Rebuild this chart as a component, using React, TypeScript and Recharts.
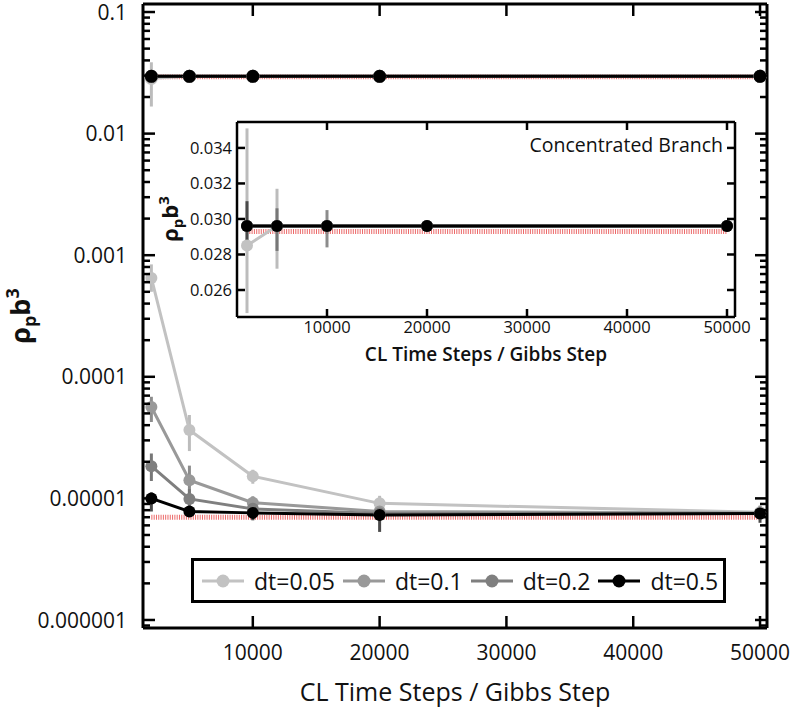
import React from "react";
import {
  LineChart,
  Line,
  XAxis,
  YAxis,
  ErrorBar,
  ReferenceLine,
  Legend,
} from "recharts";

// CL time steps per Gibbs step
const steps = [2000, 5000, 10000, 20000, 50000];

// dilute branch (log axis)
const diluteDt005 = [6.5e-4, 3.65e-5, 1.52e-5, 9.1e-6, 7.7e-6];
const diluteDt01 = [5.65e-5, 1.41e-5, 9.2e-6, 7.8e-6, 7.6e-6];
const diluteDt02 = [1.84e-5, 9.9e-6, 8.2e-6, 7.5e-6, 7.5e-6];
const diluteDt05 = [1.0e-5, 7.8e-6, 7.6e-6, 7.3e-6, 7.5e-6];

const diluteErrDt005 = [[1.5e-4, 1.9e-4], [1.2e-5, 1.2e-5], [2e-6, 2e-6], [1.4e-6, 1.4e-6], [0, 0]];
const diluteErrDt01 = [[1.4e-5, 1.2e-5], [3e-6, 4.5e-6], [1.2e-6, 1.2e-6], [0, 0], [0, 0]];
const diluteErrDt02 = [[4.5e-6, 5e-6], [1.5e-6, 2e-6], [1.5e-6, 2e-6], [0, 0], [0, 0]];
const diluteErrDt05 = [[2.2e-6, 1.2e-6], [0, 0], [1e-6, 1e-6], [2e-6, 2.2e-6], [1.2e-6, 1.2e-6]];

// concentrated branch
const concDt005 = [0.0285, 0.0296, 0.0296, 0.0296, 0.0296];
const concDt01 = [0.0296, 0.0296, 0.0296, 0.0296, 0.0296];
const concDt02 = [0.0296, 0.0296, 0.0296, 0.0296, 0.0296];
const concDt05 = [0.0296, 0.0296, 0.0296, 0.0296, 0.0296];

// error bars as drawn in the main panel
const concErrDt005 = [[0.0118, 0.0101], [0.0024, 0.0021], [0, 0], [0, 0], [0, 0]];
const concErrDt01 = [[0, 0], [0, 0], [0.0012, 0.0009], [0, 0], [0, 0]];
const concErrDt02 = [[0, 0], [0.0014, 0.001], [0, 0], [0, 0], [0, 0]];
const concErrDt05 = [[0.001, 0.0014], [0, 0], [0, 0], [0, 0], [0, 0]];
// error bars as drawn in the inset
const insetErrDt005 = [[0.0038, 0.0066], [0.0024, 0.0021], [0, 0], [0, 0], [0, 0]];

// exact values (red dotted)
const exactDilute = 7.0e-6;
const exactConc = 0.0293;

const legendLabels = ["dt=0.05", "dt=0.1", "dt=0.2", "dt=0.5"];

const mainXTicks = [10000, 20000, 30000, 40000, 50000];
const mainXLabels = ["10000", "20000", "30000", "40000", "50000"];
const mainYMajor = [1e-6, 1e-5, 1e-4, 1e-3, 1e-2, 1e-1];
const mainYLabels = ["0.000001", "0.00001", "0.0001", "0.001", "0.01", "0.1"];

const insetYTicks = [0.026, 0.028, 0.03, 0.032, 0.034];
const insetYLabels = ["0.026", "0.028", "0.030", "0.032", "0.034"];

const FONT = "'Open Sans', 'Noto Sans', sans-serif";

const MAIN_X_DOMAIN = [1340, 50550];
const MAIN_Y_DOMAIN = [8.59e-7, 0.1164];
const INSET_X_DOMAIN = [1000, 50800];
const INSET_Y_DOMAIN = [0.02448, 0.03546];

// log minor ticks 1..9 x decade
const mainYAllTicks = [1e-7, ...mainYMajor]
  .flatMap((m) => [1, 2, 3, 4, 5, 6, 7, 8, 9].map((k) => k * m))
  .filter((v) => v >= MAIN_Y_DOMAIN[0] && v <= MAIN_Y_DOMAIN[1]);

const series = [
  { id: "005", color: "#c2c2c2", err: "#bcbcbc" },
  { id: "01", color: "#999999", err: "#8c8c8c" },
  { id: "02", color: "#7f7f7f", err: "#777777" },
  { id: "05", color: "#000000", err: "#4a4a4a" },
];

const rows = steps.map((s, i) => ({
  step: s,
  d005: diluteDt005[i],
  d01: diluteDt01[i],
  d02: diluteDt02[i],
  d05: diluteDt05[i],
  ed005: diluteErrDt005[i],
  ed01: diluteErrDt01[i],
  ed02: diluteErrDt02[i],
  ed05: diluteErrDt05[i],
  c005: concDt005[i],
  c01: concDt01[i],
  c02: concDt02[i],
  c05: concDt05[i],
  ec005: concErrDt005[i],
  ec01: concErrDt01[i],
  ec02: concErrDt02[i],
  ec05: concErrDt05[i],
  ic005: insetErrDt005[i],
  ic01: concErrDt01[i],
  ic02: concErrDt02[i],
  ic05: concErrDt05[i],
}));

interface TickCfg {
  side: "left" | "right" | "top" | "bottom";
  len: number;
  minorLen?: number;
  majors?: number[];
  labels?: string[];
  gap?: number;
  fontSize?: number;
  weight?: number;
  sw?: number;
}

const findIdx = (arr: number[] | undefined, v: number) =>
  arr ? arr.findIndex((m) => Math.abs(v / m - 1) < 1e-6) : -1;

const makeTick = (cfg: TickCfg) => (props: any) => {
  const { x, y, payload } = props;
  const idx = findIdx(cfg.majors, payload.value);
  const major = !cfg.majors || idx >= 0;
  const len = major ? cfg.len : cfg.minorLen ?? cfg.len;
  const label = cfg.labels && idx >= 0 ? cfg.labels[idx] : null;
  const gap = cfg.gap ?? 6;
  const sw = cfg.sw ?? 2.5;
  let line = null;
  let text = null;
  if (cfg.side === "left") {
    line = <line x1={x} y1={y} x2={x + len} y2={y} stroke="#000" strokeWidth={sw} />;
    if (label)
      text = (
        <text x={x - gap} y={y} dy="0.36em" textAnchor="end" fontSize={cfg.fontSize} fontWeight={cfg.weight} fill="#111" fontFamily={FONT}>
          {label}
        </text>
      );
  } else if (cfg.side === "right") {
    line = <line x1={x} y1={y} x2={x - len} y2={y} stroke="#000" strokeWidth={sw} />;
  } else if (cfg.side === "top") {
    line = <line x1={x} y1={y} x2={x} y2={y + len} stroke="#000" strokeWidth={sw} />;
  } else {
    line = <line x1={x} y1={y} x2={x} y2={y - len} stroke="#000" strokeWidth={sw} />;
    if (label)
      text = (
        <text x={x} y={y + gap} dy="0.72em" textAnchor="middle" fontSize={cfg.fontSize} fontWeight={cfg.weight} fill="#111" fontFamily={FONT}>
          {label}
        </text>
      );
  }
  return (
    <g>
      {line}
      {text}
    </g>
  );
};

const MainXTitle = () => (
  <text x={455} y={701} textAnchor="middle" fontSize={25} fill="#111" fontFamily={FONT}>
    CL Time Steps / Gibbs Step
  </text>
);

const MainYTitle = () => (
  <text
    x={30}
    y={316}
    transform="rotate(-90, 30, 316)"
    textAnchor="middle"
    fontSize={27}
    fontWeight="bold"
    fill="#111"
    fontFamily={FONT}
  >
    ρ<tspan fontSize={18} dy={6}>p</tspan>
    <tspan dy={-6}>b</tspan>
    <tspan fontSize={18} dy={-11}>3</tspan>
  </text>
);

// inset chart sits at page (130, 100)
const InsetXTitle = () => (
  <text x={356} y={261} textAnchor="middle" fontSize={19} fontWeight={600} fill="#111" fontFamily={FONT}>
    CL Time Steps / Gibbs Step
  </text>
);

const InsetYTitle = () => (
  <text
    x={48}
    y={119}
    transform="rotate(-90, 48, 119)"
    textAnchor="middle"
    fontSize={22}
    fontWeight="bold"
    fill="#111"
    fontFamily={FONT}
  >
    ρ<tspan fontSize={15} dy={5}>p</tspan>
    <tspan dy={-5}>b</tspan>
    <tspan fontSize={15} dy={-9}>3</tspan>
  </text>
);

const BranchLabel = () => (
  <text x={593} y={52} textAnchor="end" fontSize={19.5} fontWeight={500} fill="#111" fontFamily={FONT}>
    Concentrated Branch
  </text>
);

const LegendBox = () => (
  <div
    style={{
      width: 535,
      height: 45,
      boxSizing: "border-box",
      border: "3px solid #000",
      background: "#fff",
      display: "flex",
      alignItems: "center",
      paddingLeft: 8,
      fontFamily: FONT,
      fontSize: 23,
      color: "#111",
    }}
  >
    {series.map((s, i) => (
      <div key={s.id} style={{ display: "flex", alignItems: "center", marginRight: 8 }}>
        <svg width={42} height={20}>
          <line x1={0} y1={10} x2={42} y2={10} stroke={s.color} strokeWidth={3} />
          <circle cx={21} cy={10} r={6.5} fill={s.color} />
        </svg>
        <span style={{ marginLeft: 10 }}>{legendLabels[i]}</span>
      </div>
    ))}
  </div>
);

const axisLine = { stroke: "#000", strokeWidth: 3 };
const insetAxisLine = { stroke: "#000", strokeWidth: 2.5 };

export default function App() {
  return (
    <div style={{ position: "absolute", left: 0, top: 0, width: 793, height: 719, background: "#fff" }}>
      <LineChart width={793} height={719} data={rows} margin={{ top: 3, right: 25, bottom: 0, left: 0 }}>
        <XAxis
          dataKey="step"
          type="number"
          domain={MAIN_X_DOMAIN}
          ticks={mainXTicks}
          interval={0}
          allowDataOverflow
          height={91}
          tickSize={0}
          tickMargin={0}
          tickLine={false}
          axisLine={axisLine}
          tick={makeTick({ side: "bottom", len: 12, majors: mainXTicks, labels: mainXLabels, gap: 17, fontSize: 21 })}
          label={<MainXTitle />}
        />
        <XAxis
          xAxisId="top"
          orientation="top"
          dataKey="step"
          type="number"
          domain={MAIN_X_DOMAIN}
          ticks={mainXTicks}
          interval={0}
          allowDataOverflow
          height={1}
          tickSize={0}
          tickMargin={0}
          tickLine={false}
          axisLine={axisLine}
          tick={makeTick({ side: "top", len: 12 })}
        />
        <YAxis
          type="number"
          scale="log"
          domain={MAIN_Y_DOMAIN}
          ticks={mainYAllTicks}
          interval={0}
          allowDataOverflow
          width={143}
          tickSize={0}
          tickMargin={0}
          tickLine={false}
          axisLine={axisLine}
          tick={makeTick({ side: "left", len: 12, minorLen: 7, majors: mainYMajor, labels: mainYLabels, gap: 16, fontSize: 21 })}
          label={<MainYTitle />}
        />
        <YAxis
          yAxisId="right"
          orientation="right"
          type="number"
          scale="log"
          domain={MAIN_Y_DOMAIN}
          ticks={mainYAllTicks}
          interval={0}
          allowDataOverflow
          width={1}
          tickSize={0}
          tickMargin={0}
          tickLine={false}
          axisLine={axisLine}
          tick={makeTick({ side: "right", len: 12, minorLen: 7, majors: mainYMajor })}
        />
        <ReferenceLine
          segment={[
            { x: steps[0], y: exactDilute },
            { x: steps[steps.length - 1], y: exactDilute },
          ]}
          stroke="#ec6a6a"
          strokeWidth={5}
          strokeDasharray="1 1.3"
        />
        <ReferenceLine
          segment={[
            { x: steps[0], y: exactConc },
            { x: steps[steps.length - 1], y: exactConc },
          ]}
          stroke="#ec6a6a"
          strokeWidth={5}
          strokeDasharray="1 1.3"
        />
        {series.map((s) => (
          <Line
            key={"d" + s.id}
            type="linear"
            dataKey={"d" + s.id}
            stroke={s.color}
            strokeWidth={3}
            dot={{ r: 6, fill: s.color, stroke: s.color, strokeWidth: 0 }}
            activeDot={false}
            isAnimationActive={false}
          >
            <ErrorBar dataKey={"ed" + s.id} width={0} stroke={s.err} strokeWidth={3} direction="y" />
          </Line>
        ))}
        {series.map((s) => (
          <Line
            key={"c" + s.id}
            type="linear"
            dataKey={"c" + s.id}
            stroke={s.color}
            strokeWidth={3}
            dot={{ r: 6.5, fill: s.color, stroke: s.color, strokeWidth: 0 }}
            activeDot={false}
            isAnimationActive={false}
          >
            <ErrorBar dataKey={"ec" + s.id} width={0} stroke={s.err} strokeWidth={3} direction="y" />
          </Line>
        ))}
        <Legend
          layout="horizontal"
          verticalAlign="middle"
          align="center"
          wrapperStyle={{ position: "absolute", left: 191, top: 558, width: 535, height: 45 }}
          content={() => <LegendBox />}
        />
      </LineChart>

      <div style={{ position: "absolute", left: 130, top: 100 }}>
        <LineChart width={630} height={280} data={rows} margin={{ top: 21, right: 24, bottom: 0, left: 0 }}>
          <XAxis
            dataKey="step"
            type="number"
            domain={INSET_X_DOMAIN}
            ticks={mainXTicks}
            interval={0}
            allowDataOverflow
            height={63}
            tickSize={0}
            tickMargin={0}
            tickLine={false}
            axisLine={insetAxisLine}
            tick={makeTick({ side: "bottom", len: 8, majors: mainXTicks, labels: mainXLabels, gap: 4, fontSize: 16.5, weight: 500 })}
            label={<InsetXTitle />}
          />
          <XAxis
            xAxisId="top"
            orientation="top"
            dataKey="step"
            type="number"
            domain={INSET_X_DOMAIN}
            ticks={mainXTicks}
            interval={0}
            allowDataOverflow
            height={1}
            tickSize={0}
            tickMargin={0}
            tickLine={false}
            axisLine={insetAxisLine}
            tick={makeTick({ side: "top", len: 8 })}
            label={<BranchLabel />}
          />
          <YAxis
            type="number"
            domain={INSET_Y_DOMAIN}
            ticks={insetYTicks}
            interval={0}
            allowDataOverflow
            width={107}
            tickSize={0}
            tickMargin={0}
            tickLine={false}
            axisLine={insetAxisLine}
            tick={makeTick({ side: "left", len: 8, majors: insetYTicks, labels: insetYLabels, gap: 5, fontSize: 16.5, weight: 500 })}
            label={<InsetYTitle />}
          />
          <YAxis
            yAxisId="right"
            orientation="right"
            type="number"
            domain={INSET_Y_DOMAIN}
            ticks={insetYTicks}
            interval={0}
            allowDataOverflow
            width={1}
            tickSize={0}
            tickMargin={0}
            tickLine={false}
            axisLine={insetAxisLine}
            tick={makeTick({ side: "right", len: 8 })}
          />
          <ReferenceLine
            segment={[
              { x: steps[0], y: exactConc },
              { x: steps[steps.length - 1], y: exactConc },
            ]}
            stroke="#ec6a6a"
            strokeWidth={5}
            strokeDasharray="1 1.3"
          />
          {series.map((s) => (
            <Line
              key={"ic" + s.id}
              type="linear"
              dataKey={"c" + s.id}
              stroke={s.color}
              strokeWidth={3}
              dot={{ r: 6, fill: s.color, stroke: s.color, strokeWidth: 0 }}
              activeDot={false}
              isAnimationActive={false}
            >
              <ErrorBar dataKey={"ic" + s.id} width={0} stroke={s.err} strokeWidth={3} direction="y" />
            </Line>
          ))}
        </LineChart>
      </div>
    </div>
  );
}
